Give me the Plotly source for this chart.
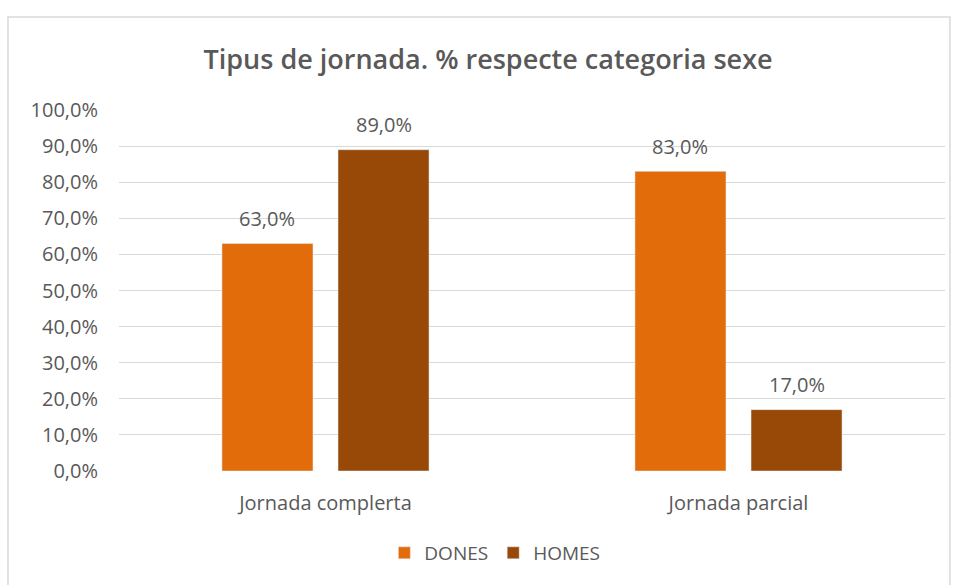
import plotly.graph_objects as go

categories = ["Jornada complerta", "Jornada parcial"]
dones = [0.63, 0.83]
homes = [0.89, 0.17]
y_ticks = [0.0, 0.1, 0.2, 0.3, 0.4, 0.5, 0.6, 0.7, 0.8, 0.9, 1.0]

FONT = "Open Sans, sans-serif"
GREY_TXT = "#595959"

BARGAP = 0.438
BARGROUPGAP = 0.216
PLOT_L, PLOT_R = 119, 12
W, H = 957, 585

fig = go.Figure()
fig.add_trace(go.Bar(name="DONES", x=categories, y=dones, marker_color="#E36C0A"))
fig.add_trace(go.Bar(name="HOMES", x=categories, y=homes, marker_color="#984807"))

# value labels above each bar (offset by half a bar slot within the group)
plot_w = W - PLOT_L - PLOT_R
slot = plot_w / len(categories) * (1 - BARGAP) / 2
for series, sign in ((dones, -1), (homes, 1)):
    for cat, v in zip(categories, series):
        fig.add_annotation(x=cat, y=v, xref="x", yref="y",
                           text=f"{v * 100:.1f}%".replace(".", ","),
                           showarrow=False, yanchor="middle",
                           xshift=sign * slot / 2, yshift=25,
                           font=dict(family=FONT, size=20, color=GREY_TXT))

fig.update_layout(
    width=W, height=H,
    margin=dict(l=PLOT_L, r=PLOT_R, t=110, b=114),
    paper_bgcolor="white", plot_bgcolor="white",
    separators=",.",
    barmode="group", bargap=BARGAP, bargroupgap=BARGROUPGAP,
    font=dict(family=FONT, color=GREY_TXT),
    title=dict(text="Tipus de jornada. % respecte categoria sexe",
               x=0.51, xanchor="center", y=0.898, yanchor="middle",
               font=dict(family=FONT, size=27, color=GREY_TXT, weight=600)),
    legend=dict(orientation="h", x=0.455, xanchor="center", y=-0.227, yanchor="middle",
                font=dict(family=FONT, size=19, color=GREY_TXT),
                itemwidth=30, traceorder="normal"),
    showlegend=True,
)
fig.update_yaxes(range=[0, 1.0], tickvals=y_ticks, tickformat=".1%",
                 showgrid=True, gridcolor="#D9D9D9", gridwidth=1,
                 zeroline=False, showline=False, ticks="",
                 ticklabelstandoff=20,
                 tickfont=dict(family=FONT, size=20, color=GREY_TXT))
fig.update_xaxes(showgrid=False, showline=False, ticks="", ticklabelstandoff=18,
                 tickfont=dict(family=FONT, size=20, color=GREY_TXT))

# chart frame
fig.add_shape(type="rect", xref="paper", yref="paper",
              x0=-0.1344, x1=1.006, y0=-0.34, y1=1.2576,
              line=dict(color="#D9D9D9", width=1.5), fillcolor="rgba(0,0,0,0)",
              layer="below")

fig.write_html("out.html")
